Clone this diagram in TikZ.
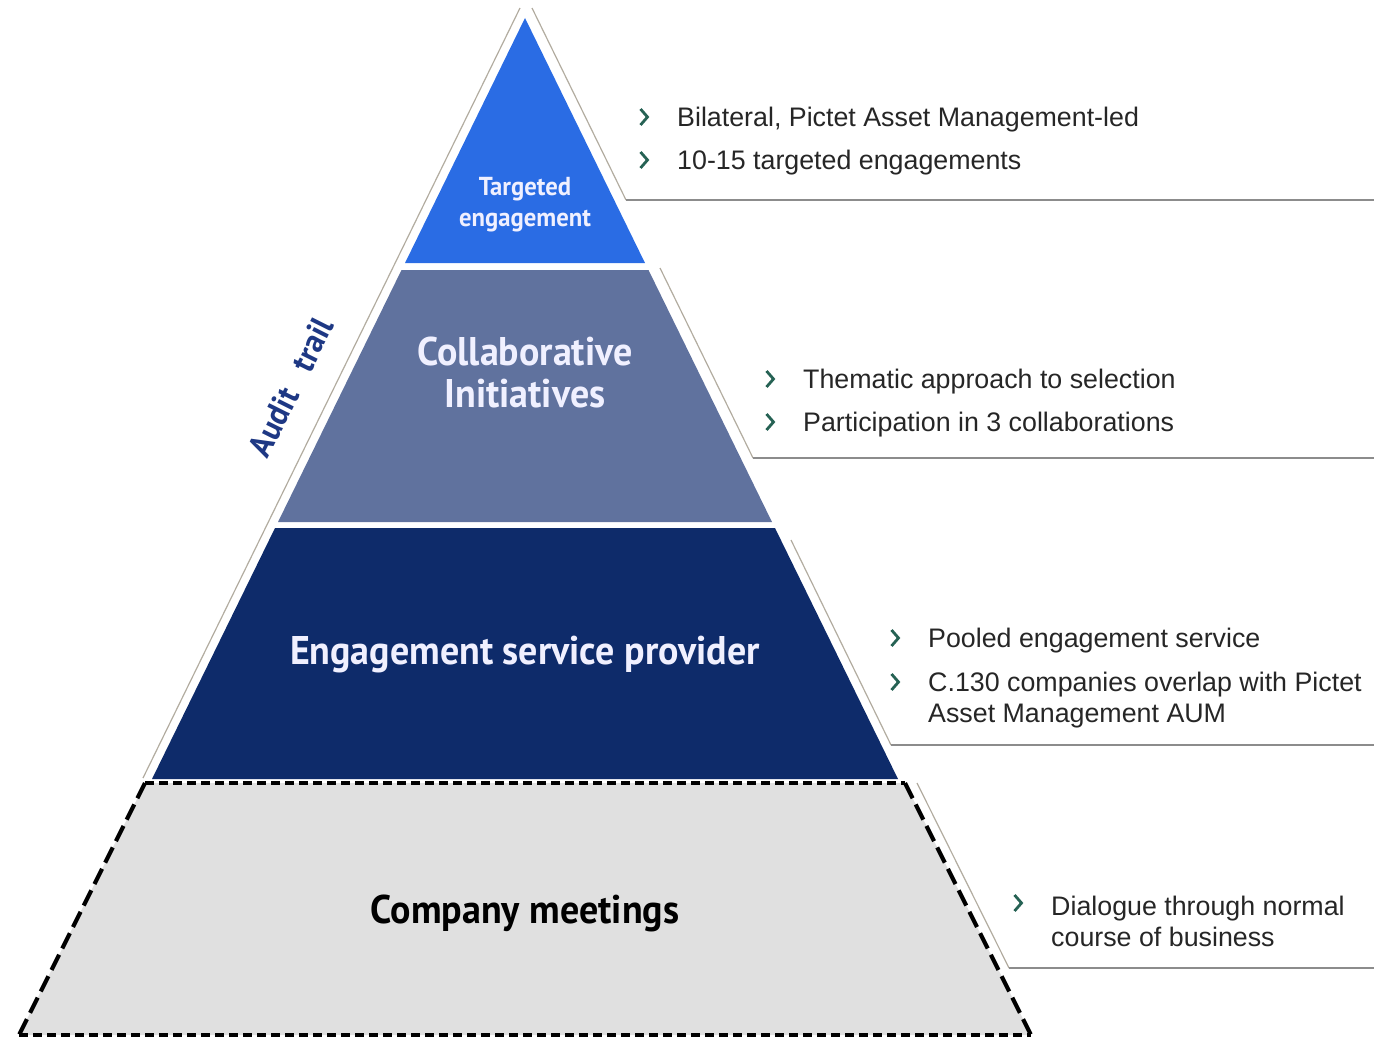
\documentclass[tikz,border=0pt]{standalone}
\usepackage{fontspec}
\setmainfont{Liberation Sans}
\newfontfamily\labelfont[FakeStretch=0.95]{PT Sans}
\usetikzlibrary{positioning,calc}
\definecolor{targetblue}{RGB}{42,108,228}
\definecolor{collabblue}{RGB}{96,114,158}
\definecolor{providerblue}{RGB}{14,43,106}
\definecolor{meetinggray}{RGB}{224,224,224}
\definecolor{trailblue}{RGB}{30,56,132}
\definecolor{chevgreen}{RGB}{38,98,84}
\definecolor{guidegray}{RGB}{178,172,160}
\tikzset{
layer_label/.style={
	% The font:
	font=\labelfont\bfseries\fontsize{40}{42}\selectfont,
	% The colour:
	text=white!94!blue,
	align=center
},
item_text/.style={
	% The font:
	font=\fontsize{26.8}{31}\selectfont,
	text=black!85,
	% Left aligned, from the west end
	anchor=west, align=left, inner sep=0pt
},
chevron/.pic={
	\draw[chevgreen, line width=2.8pt, line join=miter] (-3.5,-8) -- (3.5,0) -- (-3.5,8);
},
guide/.style={guidegray, line width=1.2pt},
rule/.style={black!45, line width=1.2pt},
dash_flat/.style={black, line width=4.5pt, dash pattern=on 9pt off 5pt},
dash_side/.style={black, line width=4.2pt, dash pattern=on 17pt off 7pt}
}
\begin{document}
\begin{tikzpicture}[x=1pt,y=-1pt]
\useasboundingbox (0,0) rectangle (1374,1041);
% guide lines along the pyramid
\draw[guide] (520,8) -- (143,778);
\draw[guide] (532,8) -- (626,200);
\draw[rule] (626,200) -- (1374,200);
\draw[guide] (660,268) -- (753,458);
\draw[rule] (753,458) -- (1374,458);
\draw[guide] (791,540) -- (891,745);
\draw[rule] (891,745) -- (1374,745);
\draw[guide] (917,783) -- (1009,968);
\draw[rule] (1009,968) -- (1374,968);
% the four layers
\fill[targetblue] (525,18) -- (645,263) -- (405,263) -- cycle;
\fill[collabblue] (401.5,270) -- (648.5,270) -- (772,522) -- (278,522) -- cycle;
\fill[providerblue] (275,528) -- (775,528) -- (898,779) -- (152,779) -- cycle;
\coordinate (m1) at (145,783);
\coordinate (m2) at (905,783);
\coordinate (m3) at (1031,1035);
\coordinate (m4) at (19,1035);
\fill[meetinggray] (m1) -- (m2) -- (m3) -- (m4) -- cycle;
\draw[dash_flat] (m1) -- (m2);
\draw[dash_flat] (m4) -- (m3);
\draw[dash_side] (m2) -- (m3);
\draw[dash_side] (m1) -- (m4);
% layer names
\node[layer_label, font=\labelfont\bfseries\fontsize{26}{31}\selectfont] (target) at (525,205) {Targeted\\engagement};
\node[layer_label] (collab) at (525,372) {Collaborative\\Initiatives};
\node[layer_label] (provider) at (525,655) {Engagement service provider};
\node[layer_label, text=black] (meetings) at (525,913) {Company meetings};
\node[layer_label, text=trailblue, font=\labelfont\bfseries\fontsize{33}{33}\selectfont, rotate=63.4] (trail) at (291,387) {Audit\hspace{0.45em} trail};
% notes on the right
\node[item_text] (n1a) at (677,120) {Bilateral, Pictet Asset Management-led};
\node[item_text] (n1b) at (677,163) {10-15 targeted engagements};
\node[item_text] (n2a) at (803,382) {Thematic approach to selection};
\node[item_text] (n2b) at (803,425) {Participation in 3 collaborations};
\node[item_text] (n3a) at (928,641) {Pooled engagement service};
\node[item_text] (n3b) at (928,700.5) {C.130 companies overlap with Pictet\\Asset Management AUM};
\node[item_text] (n4a) at (1051,921.5) {Dialogue through normal\\course of business};
\pic (c1a) at (644,117) {chevron};
\pic (c1b) at (644,160) {chevron};
\pic (c2a) at (770,379) {chevron};
\pic (c2b) at (770,422) {chevron};
\pic (c3a) at (895,638) {chevron};
\pic (c3b) at (895,682) {chevron};
\pic (c4a) at (1018,903) {chevron};
\end{tikzpicture}
\end{document}
